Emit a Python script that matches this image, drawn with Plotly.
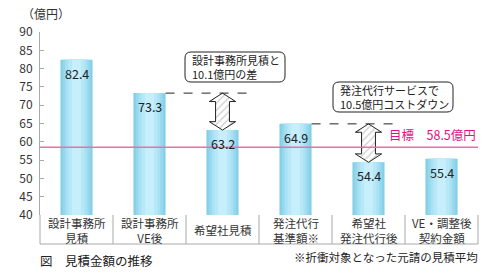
import plotly.graph_objects as go

categories = ["設計事務所<br>見積", "設計事務所<br>VE後", "希望社見積", "発注代行<br>基準額※", "希望社<br>発注代行後", "VE・調整後<br>契約金額"]
values = [82.4, 73.3, 63.2, 64.9, 54.4, 55.4]
target = 58.5
target_label = "目標　58.5億円"
y_ticks = [40, 45, 50, 55, 60, 65, 70, 75, 80, 85, 90]
# comparisons: (reference bar index, compared bar index, callout text)
comparisons = [(1, 2, "設計事務所見積と<br>10.1億円の差"), (3, 4, "発注代行サービスで<br>10.5億円コストダウン")]
unit_label = "（億円）"
caption = "図　見積金額の推移"
footnote = "※折衝対象となった元請の見積平均"

FONT = "Noto Sans CJK JP"
W, H = 500, 273
ML, MR, MT, MB = 40, 22, 32, 58
PW, PH = W - ML - MR, H - MT - MB

def px(xp):
    return (xp - ML) / PW

def py(yp):
    return (H - MB - yp) / PH

fig = go.Figure()

# layered bars to imitate horizontal gradient
layers = [(0.44, "#82cfe6"), (0.38, "#95d8ee"), (0.30, "#a8e1f4"), (0.22, "#b8e8f8"), (0.12, "#c6eefb")]
xs = list(range(len(values)))
for w, c in layers:
    fig.add_trace(go.Bar(x=xs, y=values, width=w, marker=dict(color=c, line=dict(width=0)),
                         showlegend=False, hoverinfo="skip"))

# arrows with hatched fill
sw, hw = 0.095, 0.18
hh = 2.3
for a, b, txt in comparisons:
    yt, yb = values[a], values[b]
    c = b
    axs = [c, c + hw, c + sw, c + sw, c + hw, c, c - hw, c - sw, c - sw, c - hw, c]
    ays = [yt, yt - hh, yt - hh, yb + hh, yb + hh, yb, yb + hh, yb + hh, yt - hh, yt - hh, yt]
    fig.add_trace(go.Scatter(x=axs, y=ays, mode="lines", fill="toself",
                             fillpattern=dict(shape="/", fgcolor="#9a9a9a", bgcolor="white", size=5, solidity=0.25),
                             line=dict(color="#222", width=1), showlegend=False, hoverinfo="skip"))
    fig.add_shape(type="line", xref="x", yref="y", x0=a + 0.22, x1=b + 0.35, y0=yt, y1=yt,
                  line=dict(color="#222", width=1, dash="dash"))

# target line
fig.add_shape(type="line", xref="paper", yref="y", x0=0, x1=1, y0=target, y1=target,
              line=dict(color="#ee6fa8", width=1.5))
fig.add_annotation(xref="paper", yref="y", x=1.0, y=target, xanchor="right", yanchor="bottom", yshift=1,
                   text=target_label, showarrow=False, font=dict(family=FONT, size=12.5, color="#e0127f"))

# value labels
for i, v in enumerate(values):
    fig.add_annotation(x=i, y=v, xanchor="center", yanchor="top", yshift=-2, text=f"{v:.1f}", showarrow=False,
                       font=dict(family=FONT, size=12.5, color="#222"))

# callout boxes (rounded)
boxes = [(185, 52, 285, 82), (333, 82, 453, 112)]
r = 6
for (x0, y0, x1, y1), (a, b, txt) in zip(boxes, comparisons):
    path = (f"M {px(x0 + r)} {py(y0)} L {px(x1 - r)} {py(y0)} Q {px(x1)} {py(y0)} {px(x1)} {py(y0 + r)} "
            f"L {px(x1)} {py(y1 - r)} Q {px(x1)} {py(y1)} {px(x1 - r)} {py(y1)} "
            f"L {px(x0 + r)} {py(y1)} Q {px(x0)} {py(y1)} {px(x0)} {py(y1 - r)} "
            f"L {px(x0)} {py(y0 + r)} Q {px(x0)} {py(y0)} {px(x0 + r)} {py(y0)} Z")
    fig.add_shape(type="path", xref="paper", yref="paper", path=path,
                  line=dict(color="#222", width=1), fillcolor="white")
    fig.add_annotation(xref="paper", yref="paper", x=px(x0 + 5), y=py((y0 + y1) / 2), xanchor="left",
                       yanchor="middle", align="left", text=txt, showarrow=False,
                       font=dict(family=FONT, size=11, color="#222"))

# category table
n = len(categories)
ybot = py(244)
fig.add_shape(type="line", xref="paper", yref="paper", x0=0, x1=1, y0=ybot, y1=ybot,
              line=dict(color="#a8a8a8", width=1))
for i in range(n + 1):
    fig.add_shape(type="line", xref="paper", yref="paper", x0=i / n, x1=i / n, y0=0, y1=ybot,
                  line=dict(color="#a8a8a8", width=1))
for i, c in enumerate(categories):
    fig.add_annotation(xref="paper", yref="paper", x=(i + 0.5) / n, y=py(230), xanchor="center",
                       yanchor="middle", text=c, showarrow=False,
                       font=dict(family=FONT, size=11.5, color="#333"))

fig.add_annotation(xref="paper", yref="paper", x=px(20), y=py(14), xanchor="left", yanchor="middle",
                   text=unit_label, showarrow=False, font=dict(family=FONT, size=12, color="#333"))
fig.add_annotation(xref="paper", yref="paper", x=px(38), y=py(260), xanchor="left", yanchor="middle",
                   text=caption, showarrow=False, font=dict(family=FONT, size=12.5, color="#222"))
fig.add_annotation(xref="paper", yref="paper", x=px(480), y=py(257), xanchor="right", yanchor="middle",
                   text=footnote, showarrow=False, font=dict(family=FONT, size=11.5, color="#222"))

fig.update_layout(
    width=W, height=H, margin=dict(l=ML, r=MR, t=MT, b=MB),
    paper_bgcolor="white", plot_bgcolor="white", barmode="overlay",
    xaxis=dict(range=[-0.5, n - 0.5], showticklabels=False, showgrid=False, zeroline=False,
               showline=False, ticks=""),
    yaxis=dict(range=[40, 90], tickvals=y_ticks, showgrid=False, zeroline=False, showline=True,
               linecolor="#aaaaaa", linewidth=1, ticks="inside", ticklen=4, tickcolor="#aaaaaa",
               tickfont=dict(family=FONT, size=12, color="#333"), ticklabelstandoff=4),
    font=dict(family=FONT),
)

fig.write_html("out.html")
